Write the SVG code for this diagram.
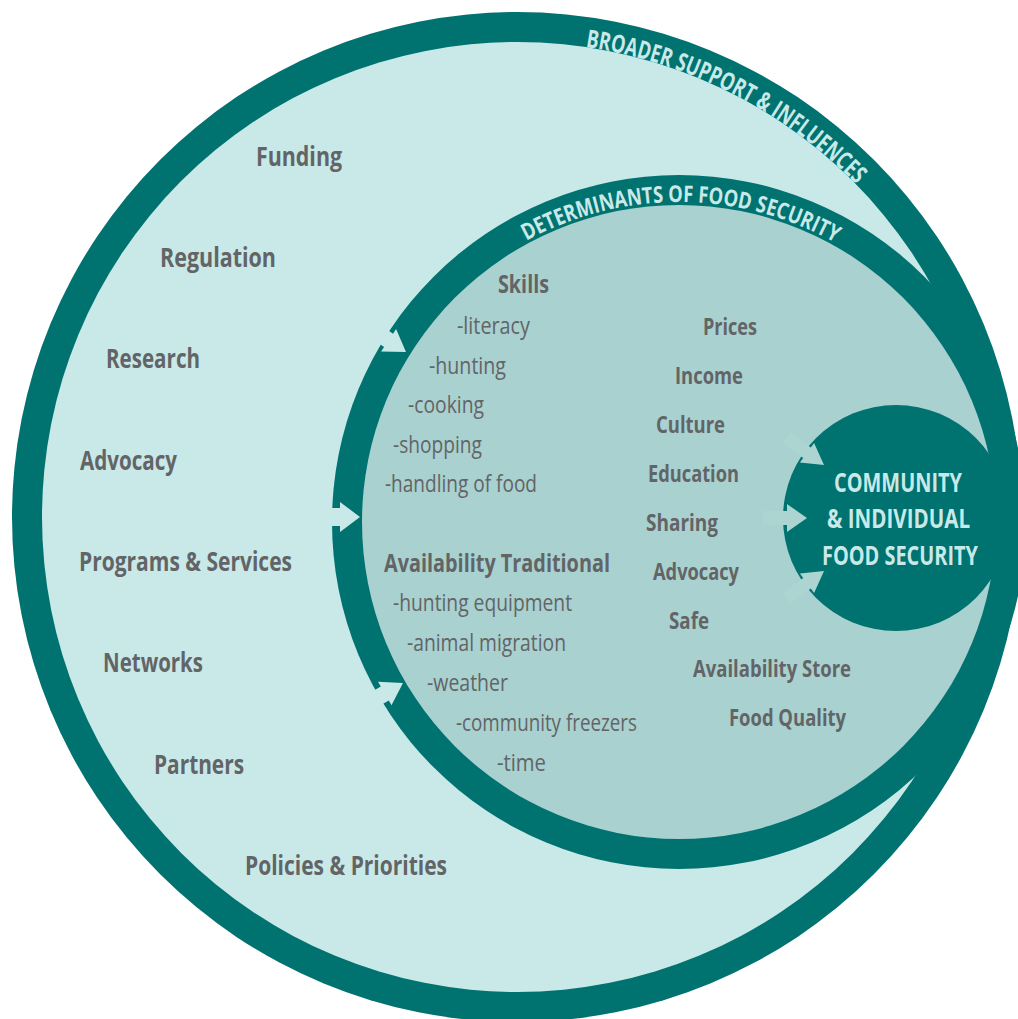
<svg xmlns="http://www.w3.org/2000/svg" width="1018" height="1019" viewBox="0 0 1018 1019">
<defs>
<style>
.dark{fill:#007270}
.light{fill:#c8e9e8}
.mid{fill:#a8d1d0}
.lbl{font-family:"Open Sans","Liberation Sans",sans-serif;fill:#636466;font-weight:700}
.outer{font-size:26px}
.bold{font-size:24.5px}
.item{font-size:24px;font-weight:400}
.right{font-size:23px}
.center{font-family:"Open Sans","Liberation Sans",sans-serif;font-size:26.5px;font-weight:700;fill:#c8e9e8}
.curve{font-family:"Open Sans","Liberation Sans",sans-serif;font-weight:700;fill:#c8e9e8}
.arrowA{fill:#c8e9e8}
.arrowB{fill:#acd5d2}
</style>
<path id="arcOuter" d="M 585.6 47 A 475 475 0 0 1 928.4 279.5" fill="none"/>
<path id="arcInner" d="M 526.3 240.8 A 320 320 0 0 1 884.7 276.9" fill="none"/>
</defs>
<rect width="1018" height="1019" fill="#ffffff"/>

<g id="broader-support">
<circle class="dark" cx="517" cy="517" r="505"/>
<circle class="light" cx="517" cy="517" r="475"/>
<text class="curve" font-size="25"><textPath href="#arcOuter" textLength="309" lengthAdjust="spacingAndGlyphs">BROADER SUPPORT &amp; INFLUENCES</textPath></text>
<text class="lbl outer" x="256" y="166" textLength="86" lengthAdjust="spacingAndGlyphs">Funding</text>
<text class="lbl outer" x="160" y="267" textLength="116" lengthAdjust="spacingAndGlyphs">Regulation</text>
<text class="lbl outer" x="106" y="368" textLength="94" lengthAdjust="spacingAndGlyphs">Research</text>
<text class="lbl outer" x="80" y="470" textLength="97" lengthAdjust="spacingAndGlyphs">Advocacy</text>
<text class="lbl outer" x="79" y="571" textLength="213" lengthAdjust="spacingAndGlyphs">Programs &amp; Services</text>
<text class="lbl outer" x="103" y="672" textLength="100" lengthAdjust="spacingAndGlyphs">Networks</text>
<text class="lbl outer" x="154" y="774" textLength="90" lengthAdjust="spacingAndGlyphs">Partners</text>
<text class="lbl outer" x="245" y="875" textLength="202" lengthAdjust="spacingAndGlyphs">Policies &amp; Priorities</text>
</g>

<g id="determinants">
<circle class="dark" cx="679" cy="522" r="347"/>
<circle class="mid" cx="679" cy="522" r="317"/>
<text class="curve" font-size="23"><textPath href="#arcInner" textLength="322" lengthAdjust="spacingAndGlyphs">DETERMINANTS OF FOOD SECURITY</textPath></text>
<text class="lbl bold" x="498" y="293" textLength="51" lengthAdjust="spacingAndGlyphs">Skills</text>
<text class="lbl item" x="457" y="334" textLength="73" lengthAdjust="spacingAndGlyphs">-literacy</text>
<text class="lbl item" x="429" y="374" textLength="77" lengthAdjust="spacingAndGlyphs">-hunting</text>
<text class="lbl item" x="408" y="413" textLength="76" lengthAdjust="spacingAndGlyphs">-cooking</text>
<text class="lbl item" x="393" y="453" textLength="89" lengthAdjust="spacingAndGlyphs">-shopping</text>
<text class="lbl item" x="385" y="492" textLength="152" lengthAdjust="spacingAndGlyphs">-handling of food</text>
<text class="lbl bold" x="384" y="572" textLength="226" lengthAdjust="spacingAndGlyphs">Availability Traditional</text>
<text class="lbl item" x="393" y="611" textLength="179" lengthAdjust="spacingAndGlyphs">-hunting equipment</text>
<text class="lbl item" x="407" y="651" textLength="159" lengthAdjust="spacingAndGlyphs">-animal migration</text>
<text class="lbl item" x="427" y="691" textLength="81" lengthAdjust="spacingAndGlyphs">-weather</text>
<text class="lbl item" x="456" y="731" textLength="181" lengthAdjust="spacingAndGlyphs">-community freezers</text>
<text class="lbl item" x="497" y="771" textLength="49" lengthAdjust="spacingAndGlyphs">-time</text>
<text class="lbl right" x="703" y="335" textLength="54" lengthAdjust="spacingAndGlyphs">Prices</text>
<text class="lbl right" x="675" y="384" textLength="68" lengthAdjust="spacingAndGlyphs">Income</text>
<text class="lbl right" x="656" y="433" textLength="69" lengthAdjust="spacingAndGlyphs">Culture</text>
<text class="lbl right" x="648" y="482" textLength="91" lengthAdjust="spacingAndGlyphs">Education</text>
<text class="lbl right" x="646" y="531" textLength="72" lengthAdjust="spacingAndGlyphs">Sharing</text>
<text class="lbl right" x="653" y="580" textLength="86" lengthAdjust="spacingAndGlyphs">Advocacy</text>
<text class="lbl right" x="669" y="629" textLength="40" lengthAdjust="spacingAndGlyphs">Safe</text>
<text class="lbl right" x="693" y="677" textLength="158" lengthAdjust="spacingAndGlyphs">Availability Store</text>
<text class="lbl right" x="729" y="726" textLength="117" lengthAdjust="spacingAndGlyphs">Food Quality</text>
</g>

<g id="food-security">
<circle class="dark" cx="896" cy="518" r="113"/>
<text class="center" x="834" y="492" textLength="128" lengthAdjust="spacingAndGlyphs">COMMUNITY</text>
<text class="center" x="827" y="528" textLength="143" lengthAdjust="spacingAndGlyphs">&amp; INDIVIDUAL</text>
<text class="center" x="822" y="565" textLength="156" lengthAdjust="spacingAndGlyphs">FOOD SECURITY</text>
</g>

<g id="connectors">
<polygon class="arrowA" points="406,352 396.1,329.1 393.1,333.7 376.5,322.5 367.5,335.7 384.1,346.9 381.1,351.5"/>
<polygon class="arrowA" points="360,517 340,502 340,508 322,508 322,526 340,526 340,532"/>
<polygon class="arrowA" points="403,683 378,681.8 380.8,686.6 363.5,696.6 371.5,710.4 388.8,700.4 391.5,705.2"/>
<polygon class="arrowB" points="824,465 814.1,443 810.8,447.4 790.6,432.7 783,443.3 803.2,457.9 799.9,462.4"/>
<polygon class="arrowB" points="807,518 787,504 787,511 763,511 763,525 787,525 787,532"/>
<polygon class="arrowB" points="824,571 814.1,593 810.8,588.6 790.6,603.3 783,592.7 803.2,578.1 799.9,573.6"/>
</g>
</svg>
